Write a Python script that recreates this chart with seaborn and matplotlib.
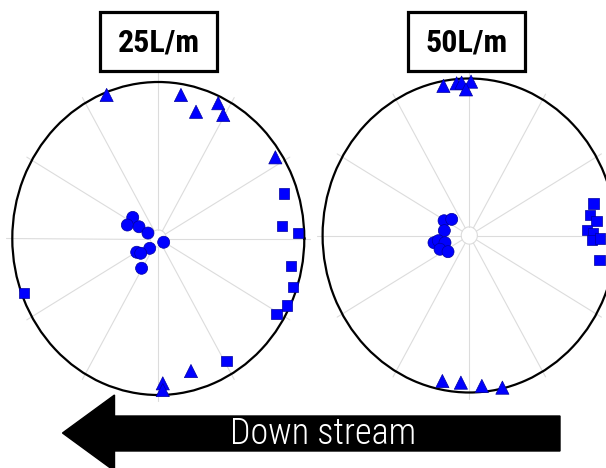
import numpy as np
import pandas as pd
import matplotlib
matplotlib.use("Agg")
import matplotlib.pyplot as plt
import seaborn as sns
from matplotlib.patches import Rectangle, Polygon

sns.set_style("white")
plt.rcParams["text.color"] = "black"

# ---- data (angle in degrees, radius normalised 0..1) ----
panels = ["25L/m", "50L/m"]
arrow_label = "Down stream"

l25_circle_theta = [142.4, 157.9, 150.4, 153.8, 327.0, 226.9, 210.7, 218.1, 239.0]
l25_circle_r     = [0.221, 0.229, 0.152, 0.079, 0.044, 0.086, 0.172, 0.153, 0.222]
l25_square_theta = [18.5, 5.5, 2.2, 349.0, 341.3, 334.1, 329.2, 300.9, 200.8]
l25_square_r     = [0.910, 0.851, 0.956, 0.926, 0.972, 0.978, 0.944, 0.911, 0.984]
l25_tri_theta    = [111.1, 80.4, 72.3, 64.6, 60.6, 32.9, 284.8, 271.9, 271.8]
l25_tri_r        = [0.983, 0.930, 0.850, 0.957, 0.906, 0.955, 0.876, 0.926, 0.969]

l50_circle_theta = [151.3, 139.4, 169.7, 190.8, 188.9, 195.5, 203.7, 215.4]
l50_circle_r     = [0.196, 0.158, 0.173, 0.245, 0.214, 0.172, 0.218, 0.178]
l50_square_theta = [13.6, 9.0, 6.2, 2.5, 0.9, 358.0, 358.8, 350.0]
l50_square_r     = [0.870, 0.833, 0.873, 0.805, 0.845, 0.835, 0.891, 0.900]
l50_tri_theta    = [100.5, 95.1, 93.1, 89.3, 91.4, 258.8, 266.5, 275.1, 283.1]
l50_tri_r        = [0.969, 0.973, 0.975, 0.980, 0.931, 0.945, 0.939, 0.962, 0.995]


def build(ct, cr, st, sr, tt, tr):
    rows = []
    for kind, th, rr in (("circle", ct, cr), ("square", st, sr), ("triangle", tt, tr)):
        for a, b in zip(th, rr):
            rows.append({"theta": np.deg2rad(a), "r": b, "kind": kind})
    return pd.DataFrame(rows)


data = [
    build(l25_circle_theta, l25_circle_r, l25_square_theta, l25_square_r, l25_tri_theta, l25_tri_r),
    build(l50_circle_theta, l50_circle_r, l50_square_theta, l50_square_r, l50_tri_theta, l50_tri_r),
]

W, H = 606, 468
fig = plt.figure(figsize=(W / 100, H / 100), dpi=100)


def fx(px):
    return px / W


def fy(py):
    return 1 - py / H


# axes boxes in pixels: (cx, cy, rx, ry)
boxes = [(158.3, 238.5, 146.0, 156.5), (469.3, 235.5, 146.7, 157.0)]
title_boxes = [(100, 217), (408, 525)]

markers = {"circle": "o", "square": "s", "triangle": "^"}
sizes = {"circle": 75, "square": 56, "triangle": 90}

for i, (cx, cy, rx, ry) in enumerate(boxes):
    ax = fig.add_axes([fx(cx - rx), fy(cy + ry), 2 * rx / W, 2 * ry / H], projection="polar")
    ax.set_aspect("auto")
    ax.set_ylim(0, 1)
    ax.grid(False)
    grid_deg = np.arange(0, 360, 30)
    for d in grid_deg:
        a = np.deg2rad(d)
        rend = 1.075 if d == 90 else 1.04
        ax.plot([a, a], [0.055, rend], color="#dcdcdc", lw=0.8, zorder=0, clip_on=False)
    circ = np.linspace(0, 2 * np.pi, 120)
    ax.plot(circ, np.full_like(circ, 0.055), color="#dcdcdc", lw=0.8, zorder=0)
    ax.set_xticks([])
    ax.set_yticks([])
    ax.spines["polar"].set_linewidth(1.6)
    ax.spines["polar"].set_color("black")
    sns.scatterplot(data=data[i], x="theta", y="r", style="kind", markers=markers,
                    size="kind", sizes=sizes, color="#0000ff", edgecolor="#0000a0",
                    linewidth=0.5, legend=False, ax=ax, zorder=3, clip_on=False)
    ax.set_xlabel("")
    ax.set_ylabel("")

    # title box
    x0, x1 = title_boxes[i]
    y0, y1 = 12, 71
    fig.patches.append(Rectangle((fx(x0), fy(y1)), (x1 - x0) / W, (y1 - y0) / H,
                                 transform=fig.transFigure, facecolor="white",
                                 edgecolor="black", lw=2.3, zorder=5))
    xm = (x0 + x1) / 2
    fig.text(fx(xm), fy((y0 + y1) / 2 + 0.5), panels[i], ha="center", va="center",
             fontsize=23, fontweight="bold", color="black",
             family=["Roboto Condensed", "DejaVu Sans"], zorder=6)

# arrow
pts = [(62.5, 433), (114.5, 395), (114.5, 416), (560, 416), (560, 451), (114.5, 451), (114.5, 471)]
fig.patches.append(Polygon([(fx(x), fy(y)) for x, y in pts], closed=True,
                           transform=fig.transFigure, facecolor="black",
                           edgecolor="black", zorder=5))
fig.text(fx(323), fy(434), arrow_label, ha="center", va="center", color="white",
         fontsize=26, fontweight="light",
         family=["Roboto Condensed", "DejaVu Sans"], zorder=6)

fig.savefig("out.png", dpi=100)
